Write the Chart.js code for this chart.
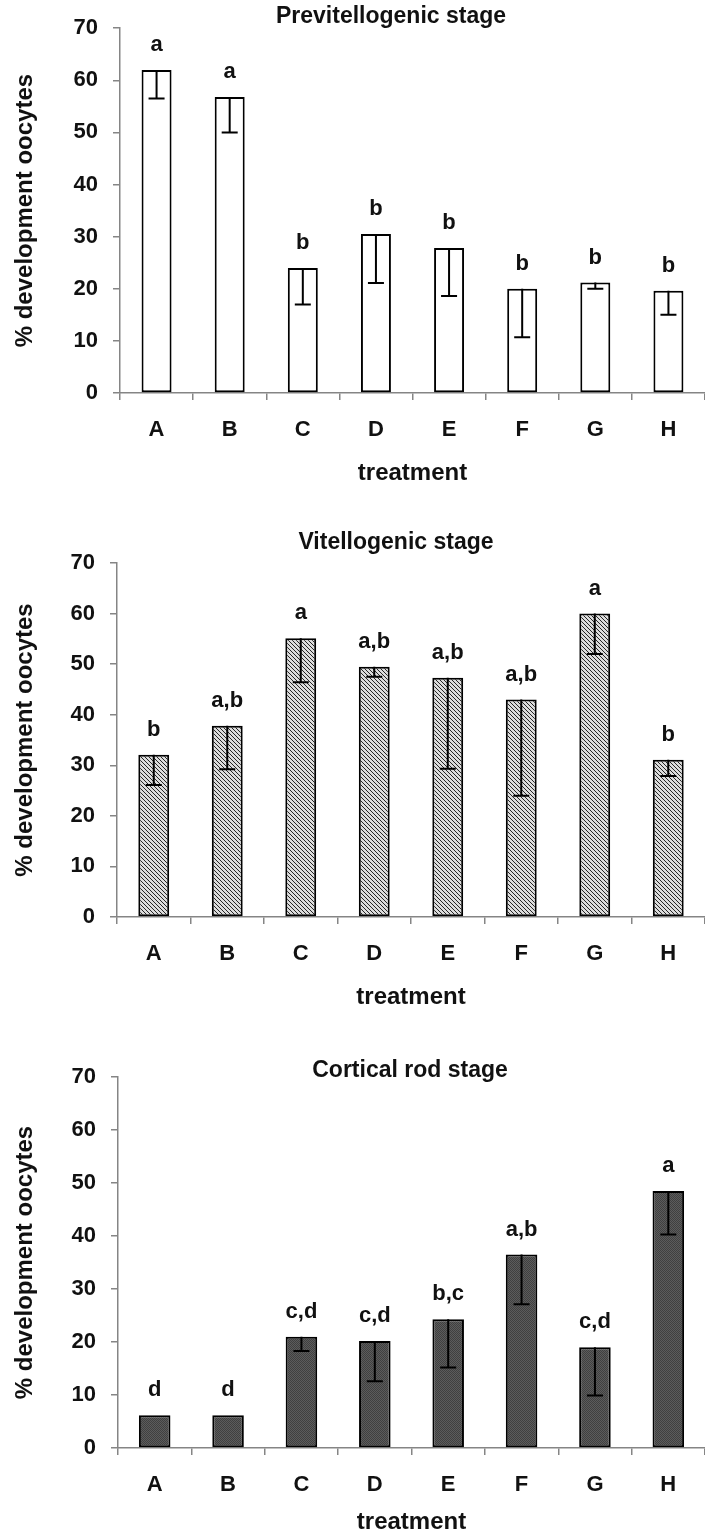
<!DOCTYPE html>
<html>
<head>
<meta charset="utf-8">
<script src="https://cdn.jsdelivr.net/npm/chart.js@4.4.1/dist/chart.umd.min.js"></script>
<style>
  html, body { margin: 0; padding: 0; background: #fff; overflow: hidden; }
  #wrap { position: relative; width: 705px; height: 1535px; }
  canvas { position: absolute; left: 0; display: block; }
</style>
</head>
<body>
<div id="wrap">
  <canvas id="c1" width="705" height="500" style="top:0px"></canvas>
  <canvas id="c2" width="705" height="520" style="top:500px"></canvas>
  <canvas id="c3" width="705" height="515" style="top:1020px"></canvas>
</div>
<script>
// treatments on the x axis
const treatments = ['A', 'B', 'C', 'D', 'E', 'F', 'G', 'H'];

// y axis range / ticks
const yMin = 0;
const yMax = 70;
const yStep = 10;

// Previtellogenic stage: mean and lower end of error bar
const previtMean = [62, 56.8, 24, 30.5, 27.8, 20, 21.2, 19.6];
const previtLower = [56.5, 50, 17, 21.1, 18.6, 10.7, 20, 15];
const previtLetters = ['a', 'a', 'b', 'b', 'b', 'b', 'b', 'b'];

// Vitellogenic stage
const vitMean = [32.1, 37.8, 55.1, 49.5, 47.3, 43, 60, 31.1];
const vitLower = [26.1, 29.2, 46.4, 47.5, 29.3, 24, 52, 27.9];
const vitLetters = ['b', 'a,b', 'a', 'a,b', 'a,b', 'a,b', 'a', 'b'];

// Cortical rod stage
const rodMean = [6.2, 6.2, 21, 20.2, 24.3, 36.5, 19, 48.5];
const rodLower = [null, null, 18.3, 12.6, 15.2, 27.1, 9.9, 40.3];
const rodLetters = ['d', 'd', 'c,d', 'c,d', 'b,c', 'a,b', 'c,d', 'a'];

const FONT = '"Liberation Sans", Arial, Helvetica, sans-serif';
Chart.defaults.font.family = FONT;
Chart.defaults.color = '#111';

// hatch fill for the vitellogenic bars
function hatchPattern() {
  const c = document.createElement('canvas');
  c.width = 4; c.height = 4;
  const g = c.getContext('2d');
  g.fillStyle = '#dcdcdc';
  g.fillRect(0, 0, 4, 4);
  g.fillStyle = '#262626';
  for (let i = 0; i < 4; i++) g.fillRect(i, i, 1, 1);
  return g.createPattern(c, 'repeat');
}

// stipple fill for the cortical rod bars
function stipplePattern() {
  const c = document.createElement('canvas');
  c.width = 2; c.height = 2;
  const g = c.getContext('2d');
  g.fillStyle = '#5c5c5c';
  g.fillRect(0, 0, 2, 2);
  g.fillStyle = '#404040';
  g.fillRect(0, 0, 1, 1);
  g.fillRect(1, 1, 1, 1);
  return g.createPattern(c, 'repeat');
}

// error bars (downward only), significance letters and panel title
const extras = {
  id: 'extras',
  afterDatasetsDraw(chart, args, opts) {
    const ctx = chart.ctx;
    const meta = chart.getDatasetMeta(0);
    const ys = chart.scales.y;
    const vals = chart.data.datasets[0].data;
    ctx.save();
    ctx.strokeStyle = '#000';
    ctx.lineWidth = 2;
    meta.data.forEach((bar, i) => {
      const lo = opts.lower[i];
      if (lo == null) return;
      const top = ys.getPixelForValue(vals[i]);
      const bot = ys.getPixelForValue(lo);
      ctx.beginPath();
      ctx.moveTo(bar.x, top);
      ctx.lineTo(bar.x, bot);
      ctx.moveTo(bar.x - 8, bot);
      ctx.lineTo(bar.x + 8, bot);
      ctx.stroke();
    });
    ctx.fillStyle = '#111';
    ctx.font = 'bold 22px ' + FONT;
    ctx.textAlign = 'center';
    ctx.textBaseline = 'alphabetic';
    meta.data.forEach((bar, i) => {
      ctx.fillText(opts.letters[i], bar.x, bar.y - 19);
    });
    ctx.font = 'bold 23px ' + FONT;
    ctx.textBaseline = 'middle';
    ctx.fillText(opts.title, opts.titleX, opts.titleY);
    ctx.restore();
  }
};

function makeChart(id, cfg) {
  const axisGray = '#858585';
  new Chart(document.getElementById(id), {
    type: 'bar',
    data: {
      labels: treatments,
      datasets: [{
        data: cfg.values,
        backgroundColor: cfg.fill,
        borderColor: '#000',
        borderWidth: 2,
        borderSkipped: false,
        categoryPercentage: 1,
        barPercentage: cfg.barPct
      }]
    },
    options: {
      responsive: false,
      animation: false,
      devicePixelRatio: 1,
      layout: { padding: { left: 0, right: 0, top: cfg.padTop, bottom: cfg.padBottom } },
      plugins: {
        legend: { display: false },
        tooltip: { enabled: false },
        extras: {
          lower: cfg.lower,
          letters: cfg.letters,
          title: cfg.title,
          titleX: cfg.titleX,
          titleY: cfg.titleY
        }
      },
      scales: {
        x: {
          grid: { display: true, drawOnChartArea: false, offset: true, tickLength: 7, tickColor: axisGray, lineWidth: 1.5 },
          border: { display: true, color: axisGray, width: 1.5 },
          ticks: { font: { size: 22, weight: 'bold' }, color: '#111', padding: 17, autoSkip: false, maxRotation: 0 },
          title: { display: true, text: 'treatment', font: { size: 24, weight: 'bold', lineHeight: 1 }, color: '#111', padding: { top: 0, bottom: cfg.xTitlePad } },
          afterFit: s => { s.height = cfg.xHeight; }
        },
        y: {
          min: yMin,
          max: yMax,
          grid: { display: true, drawOnChartArea: false, tickLength: 7, tickColor: axisGray, lineWidth: 1.5 },
          border: { display: true, color: axisGray, width: 1.5 },
          ticks: { stepSize: yStep, font: { size: 22, weight: 'bold' }, color: '#111', padding: 15 },
          title: { display: true, text: '% development oocytes', font: { size: 24, weight: 'bold', lineHeight: 1 }, color: '#111', padding: { top: 13, bottom: 0 } },
          afterFit: s => { s.width = cfg.yWidth; }
        }
      }
    },
    plugins: [extras]
  });
}

makeChart('c1', {
  values: previtMean, lower: previtLower, letters: previtLetters,
  fill: '#ffffff', barPct: 0.41,
  title: 'Previtellogenic stage', titleX: 391, titleY: 17,
  padTop: 26, padBottom: 11, xHeight: 96, xTitlePad: 4, yWidth: 120
});

makeChart('c2', {
  values: vitMean, lower: vitLower, letters: vitLetters,
  fill: hatchPattern(), barPct: 0.42,
  title: 'Vitellogenic stage', titleX: 396, titleY: 43,
  padTop: 63, padBottom: 7, xHeight: 96, xTitlePad: 4, yWidth: 117
});

makeChart('c3', {
  values: rodMean, lower: rodLower, letters: rodLetters,
  fill: stipplePattern(), barPct: 0.43,
  title: 'Cortical rod stage', titleX: 410, titleY: 51,
  padTop: 57, padBottom: 1, xHeight: 86, xTitlePad: 0, yWidth: 118
});
</script>
</body>
</html>
